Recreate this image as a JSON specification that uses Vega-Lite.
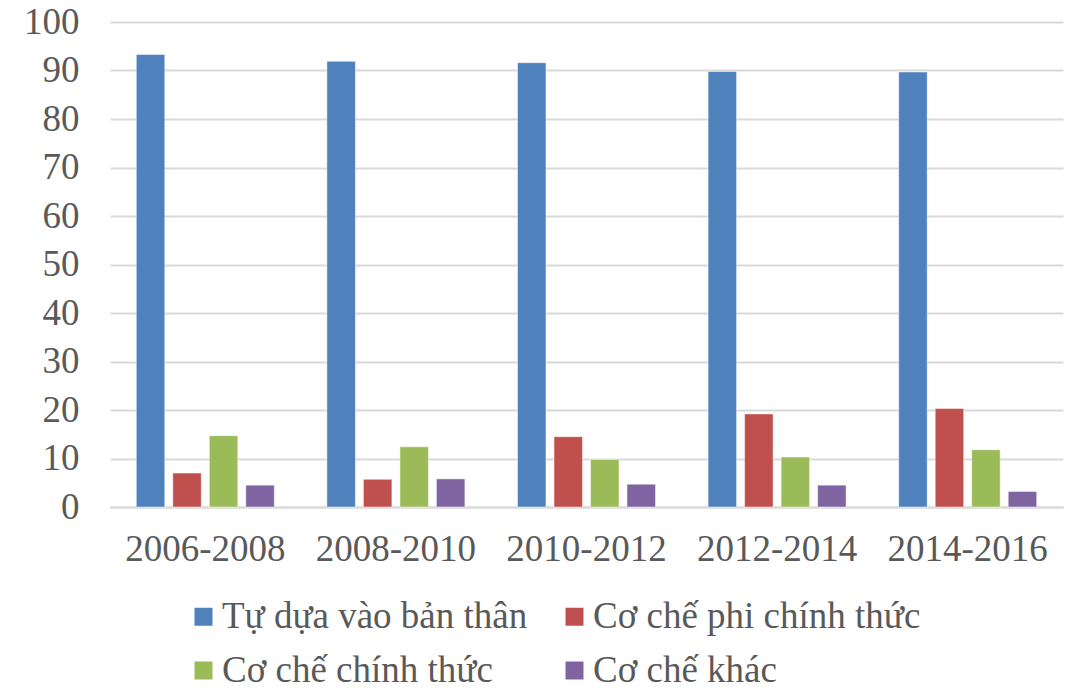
{
  "$schema": "https://vega.github.io/schema/vega-lite/v6.json",
  "width": 953,
  "height": 485,
  "autosize": {"type": "none"},
  "padding": {"left": 110, "top": 22, "right": 5, "bottom": 184},
  "background": "white",
  "data": {
    "values": [
      {"period": "2006-2008", "series": "Tự dựa vào bản thân", "value": 93.3},
      {"period": "2006-2008", "series": "Cơ chế phi chính thức", "value": 7.0},
      {"period": "2006-2008", "series": "Cơ chế chính thức", "value": 14.7},
      {"period": "2006-2008", "series": "Cơ chế khác", "value": 4.5},
      {"period": "2008-2010", "series": "Tự dựa vào bản thân", "value": 91.9},
      {"period": "2008-2010", "series": "Cơ chế phi chính thức", "value": 5.7},
      {"period": "2008-2010", "series": "Cơ chế chính thức", "value": 12.4},
      {"period": "2008-2010", "series": "Cơ chế khác", "value": 5.8},
      {"period": "2010-2012", "series": "Tự dựa vào bản thân", "value": 91.6},
      {"period": "2010-2012", "series": "Cơ chế phi chính thức", "value": 14.5},
      {"period": "2010-2012", "series": "Cơ chế chính thức", "value": 9.8},
      {"period": "2010-2012", "series": "Cơ chế khác", "value": 4.7},
      {"period": "2012-2014", "series": "Tự dựa vào bản thân", "value": 89.8},
      {"period": "2012-2014", "series": "Cơ chế phi chính thức", "value": 19.2},
      {"period": "2012-2014", "series": "Cơ chế chính thức", "value": 10.3},
      {"period": "2012-2014", "series": "Cơ chế khác", "value": 4.5},
      {"period": "2014-2016", "series": "Tự dựa vào bản thân", "value": 89.7},
      {"period": "2014-2016", "series": "Cơ chế phi chính thức", "value": 20.3},
      {"period": "2014-2016", "series": "Cơ chế chính thức", "value": 11.8},
      {"period": "2014-2016", "series": "Cơ chế khác", "value": 3.2}
    ]
  },
  "mark": {"type": "bar", "stroke": "#ffffff", "strokeWidth": 0.8, "strokeOpacity": 0.6},
  "encoding": {
    "x": {
      "field": "period",
      "type": "nominal",
      "sort": null,
      "title": null,
      "scale": {"paddingInner": 0.276, "paddingOuter": 0.138},
      "axis": {
        "labelAngle": 0,
        "labelFont": "Liberation Serif",
        "labelFontSize": 37,
        "labelColor": "#595959",
        "labelPadding": 24,
        "ticks": false,
        "domain": true,
        "domainColor": "#d9d9d9",
        "domainWidth": 2
      }
    },
    "xOffset": {
      "field": "series",
      "type": "nominal",
      "sort": ["Tự dựa vào bản thân", "Cơ chế phi chính thức", "Cơ chế chính thức", "Cơ chế khác"],
      "scale": {"paddingInner": 0.22, "paddingOuter": 0}
    },
    "y": {
      "field": "value",
      "type": "quantitative",
      "title": null,
      "scale": {"domain": [0, 100], "nice": false},
      "axis": {
        "values": [0, 10, 20, 30, 40, 50, 60, 70, 80, 90, 100],
        "labelFont": "Liberation Serif",
        "labelFontSize": 37,
        "labelColor": "#595959",
        "labelPadding": 31,
        "ticks": false,
        "domain": false,
        "grid": true,
        "gridColor": "#d9d9d9",
        "gridWidth": 2
      }
    },
    "color": {
      "field": "series",
      "type": "nominal",
      "sort": ["Tự dựa vào bản thân", "Cơ chế phi chính thức", "Cơ chế chính thức", "Cơ chế khác"],
      "scale": {
        "domain": ["Tự dựa vào bản thân", "Cơ chế phi chính thức", "Cơ chế chính thức", "Cơ chế khác"],
        "range": ["#4F81BD", "#C0504D", "#9BBB59", "#8064A2"]
      },
      "legend": {
        "title": null,
        "orient": "none",
        "legendX": 75,
        "legendY": 576,
        "padding": 0,
        "values": ["Tự dựa vào bản thân", "Cơ chế chính thức", "Cơ chế phi chính thức", "Cơ chế khác"],
        "columns": 2,
        "columnPadding": 28,
        "rowPadding": 16,
        "symbolType": "square",
        "symbolSize": 324,
        "symbolStrokeWidth": 0,
        "symbolOffset": 0,
        "labelOffset": 0,
        "labelFont": "Liberation Serif",
        "labelFontSize": 37,
        "labelColor": "#595959",
        "labelLimit": 500
      }
    }
  },
  "config": {
    "view": {"stroke": null}
  }
}
